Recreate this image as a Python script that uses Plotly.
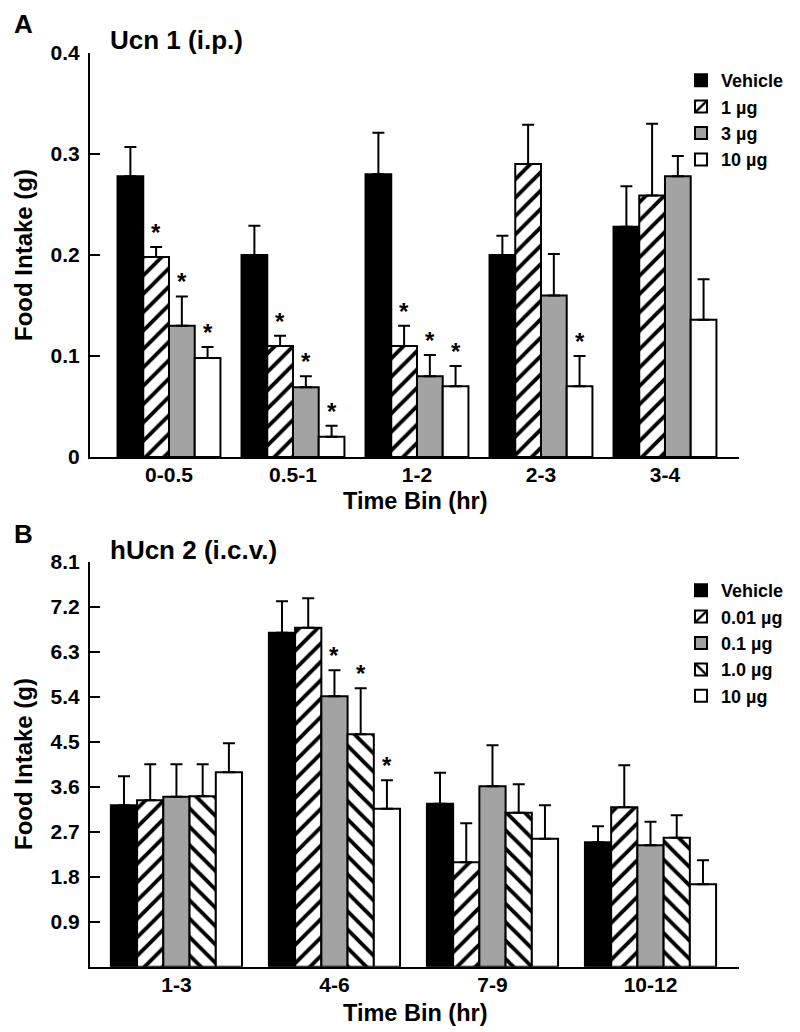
import plotly.graph_objects as go

# ---------------- data (panel A) ----------------
top_categories = ["0-0.5", "0.5-1", "1-2", "2-3", "3-4"]
top_names = ["Vehicle", "1 µg", "3 µg", "10 µg"]
top_vehicle = [0.278, 0.200, 0.280, 0.200, 0.228]
top_vehicle_err = [0.029, 0.029, 0.041, 0.019, 0.040]
top_1ug = [0.198, 0.110, 0.110, 0.290, 0.259]
top_1ug_err = [0.010, 0.010, 0.020, 0.039, 0.071]
top_3ug = [0.130, 0.069, 0.080, 0.160, 0.278]
top_3ug_err = [0.029, 0.011, 0.021, 0.041, 0.020]
top_10ug = [0.098, 0.020, 0.070, 0.070, 0.136]
top_10ug_err = [0.011, 0.011, 0.020, 0.030, 0.040]
top_sig_vehicle = [0, 0, 0, 0, 0]
top_sig_1ug = [1, 1, 1, 0, 0]
top_sig_3ug = [1, 1, 1, 0, 0]
top_sig_10ug = [1, 1, 1, 1, 0]
top_ticks = [0, 0.1, 0.2, 0.3, 0.4]
top_ticklabels = ["0", "0.1", "0.2", "0.3", "0.4"]

# ---------------- data (panel B) ----------------
bot_categories = ["1-3", "4-6", "7-9", "10-12"]
bot_names = ["Vehicle", "0.01 µg", "0.1 µg", "1.0 µg", "10 µg"]
bot_vehicle = [3.23, 6.68, 3.26, 2.49]
bot_vehicle_err = [0.58, 0.63, 0.62, 0.32]
bot_001ug = [3.33, 6.78, 2.09, 3.19]
bot_001ug_err = [0.72, 0.59, 0.78, 0.84]
bot_01ug = [3.40, 5.41, 3.61, 2.43]
bot_01ug_err = [0.65, 0.52, 0.82, 0.47]
bot_1ug = [3.41, 4.65, 3.08, 2.58]
bot_1ug_err = [0.64, 0.92, 0.57, 0.45]
bot_10ug = [3.89, 3.16, 2.56, 1.65]
bot_10ug_err = [0.58, 0.57, 0.67, 0.48]
bot_sig_vehicle = [0, 0, 0, 0]
bot_sig_001ug = [0, 0, 0, 0]
bot_sig_01ug = [0, 1, 0, 0]
bot_sig_1ug = [0, 1, 0, 0]
bot_sig_10ug = [0, 1, 0, 0]
bot_ticks = [0.9, 1.8, 2.7, 3.6, 4.5, 5.4, 6.3, 7.2, 8.1]
bot_ticklabels = ["0.9", "1.8", "2.7", "3.6", "4.5", "5.4", "6.3", "7.2", "8.1"]

# ---------------- styling ----------------
FONT = "Liberation Sans, Arial, Helvetica, sans-serif"
W, H = 800, 1032
GRAY = "#a3a3a3"
GAP = 0.17


def bfont(size):
    return dict(family=FONT, size=size, color="black", weight="bold")


def hatch(shape):
    return dict(shape=shape, fgcolor="black", bgcolor="white", size=13, solidity=0.3, fillmode="replace")


styles = {
    "solid": dict(color="black", pattern=dict(shape="")),
    "fwd": dict(color="white", pattern=hatch("/")),
    "gray": dict(color=GRAY, pattern=dict(shape="")),
    "back": dict(color="white", pattern=hatch("\\")),
    "white": dict(color="white", pattern=dict(shape="")),
}

top_series = [
    (top_names[0], top_vehicle, top_vehicle_err, top_sig_vehicle, "solid"),
    (top_names[1], top_1ug, top_1ug_err, top_sig_1ug, "fwd"),
    (top_names[2], top_3ug, top_3ug_err, top_sig_3ug, "gray"),
    (top_names[3], top_10ug, top_10ug_err, top_sig_10ug, "white"),
]
bot_series = [
    (bot_names[0], bot_vehicle, bot_vehicle_err, bot_sig_vehicle, "solid"),
    (bot_names[1], bot_001ug, bot_001ug_err, bot_sig_001ug, "fwd"),
    (bot_names[2], bot_01ug, bot_01ug_err, bot_sig_01ug, "gray"),
    (bot_names[3], bot_1ug, bot_1ug_err, bot_sig_1ug, "back"),
    (bot_names[4], bot_10ug, bot_10ug_err, bot_sig_10ug, "white"),
]

fig = go.Figure()
annotations = []


def add_panel(series, cats, xaxis, yaxis, legend):
    n = len(series)
    bw = (1 - GAP) / n
    for j, (name, vals, errs, sig, sty) in enumerate(series):
        s = styles[sty]
        fig.add_trace(go.Bar(
            x=cats, y=vals, name=name, xaxis=xaxis, yaxis=yaxis, legend=legend,
            offsetgroup=str(j),
            marker=dict(color=s["color"], pattern=s["pattern"], line=dict(color="black", width=2)),
            error_y=dict(type="data", array=errs, arrayminus=[0] * len(errs), symmetric=False,
                         color="black", thickness=2, width=6),
        ))
        for i, flag in enumerate(sig):
            if flag:
                annotations.append(dict(
                    x=i + (j - (n - 1) / 2) * bw, y=vals[i] + errs[i],
                    xref=xaxis, yref=yaxis, text="*", showarrow=False,
                    yanchor="bottom", yshift=-1, font=bfont(24)))


add_panel(top_series, top_categories, "x", "y", "legend")
add_panel(bot_series, bot_categories, "x2", "y2", "legend2")


def px_x(p):
    return p / W


def px_y(p):
    return 1 - p / H


xdom = [px_x(90), px_x(739)]
axis_common = dict(showline=True, linecolor="black", linewidth=2, showgrid=False, zeroline=False,
                   tickfont=bfont(21), tickcolor="black", automargin=False, fixedrange=True)

fig.update_layout(
    template="none",
    width=W, height=H, margin=dict(l=0, r=0, t=0, b=0, pad=0), autosize=False,
    paper_bgcolor="white", plot_bgcolor="white",
    font=dict(family=FONT, color="black"),
    barmode="group",
    bargap=GAP,
    bargroupgap=0,
    hovermode=False,
    xaxis=dict(domain=xdom, anchor="y", type="category", range=[-0.637, 4.597],
               ticks="", ticklabelstandoff=-2, **axis_common),
    yaxis=dict(domain=[px_y(457), px_y(53)], anchor="x", range=[0, 0.4],
               tickvals=top_ticks, ticktext=top_ticklabels, ticks="inside", ticklen=10, tickwidth=2,
               ticklabelstandoff=4, **axis_common),
    xaxis2=dict(domain=xdom, anchor="y2", type="category", range=[-0.547, 3.56],
                ticks="", ticklabelstandoff=-2, **axis_common),
    yaxis2=dict(domain=[px_y(966.7), px_y(561.7)], anchor="x2", range=[0, 8.1],
                tickvals=bot_ticks, ticktext=bot_ticklabels, ticks="inside", ticklen=10, tickwidth=2,
                ticklabelstandoff=4, **axis_common),
    legend=dict(x=px_x(681), y=px_y(62), xanchor="left", yanchor="top", font=bfont(18),
                bgcolor="rgba(0,0,0,0)", borderwidth=0, traceorder="normal"),
    legend2=dict(x=px_x(681), y=px_y(572), xanchor="left", yanchor="top", font=bfont(18),
                 bgcolor="rgba(0,0,0,0)", borderwidth=0, traceorder="normal"),
    showlegend=True,
)

annotations += [
    dict(x=px_x(12), y=px_y(24), xref="paper", yref="paper", text="A", showarrow=False,
         xanchor="left", yanchor="middle", font=bfont(26)),
    dict(x=px_x(108), y=px_y(40), xref="paper", yref="paper", text="Ucn 1 (i.p.)", showarrow=False,
         xanchor="left", yanchor="middle", font=bfont(26)),
    dict(x=px_x(23), y=px_y(255), xref="paper", yref="paper", text="Food Intake (g)", showarrow=False,
         textangle=-90, xanchor="center", yanchor="middle", font=bfont(24)),
    dict(x=px_x(415), y=px_y(501), xref="paper", yref="paper", text="Time Bin (hr)", showarrow=False,
         xanchor="center", yanchor="middle", font=bfont(23.5)),
    dict(x=px_x(12), y=px_y(534), xref="paper", yref="paper", text="B", showarrow=False,
         xanchor="left", yanchor="middle", font=bfont(26)),
    dict(x=px_x(108), y=px_y(550), xref="paper", yref="paper", text="hUcn 2 (i.c.v.)", showarrow=False,
         xanchor="left", yanchor="middle", font=bfont(26)),
    dict(x=px_x(23), y=px_y(764), xref="paper", yref="paper", text="Food Intake (g)", showarrow=False,
         textangle=-90, xanchor="center", yanchor="middle", font=bfont(24)),
    dict(x=px_x(415), y=px_y(1013), xref="paper", yref="paper", text="Time Bin (hr)", showarrow=False,
         xanchor="center", yanchor="middle", font=bfont(23.5)),
]
fig.update_layout(annotations=annotations)

fig.write_html(
    "out.html",
    config={"displayModeBar": False, "staticPlot": True},
    post_script="document.body.style.margin='0px';document.body.style.overflow='hidden';",
)
